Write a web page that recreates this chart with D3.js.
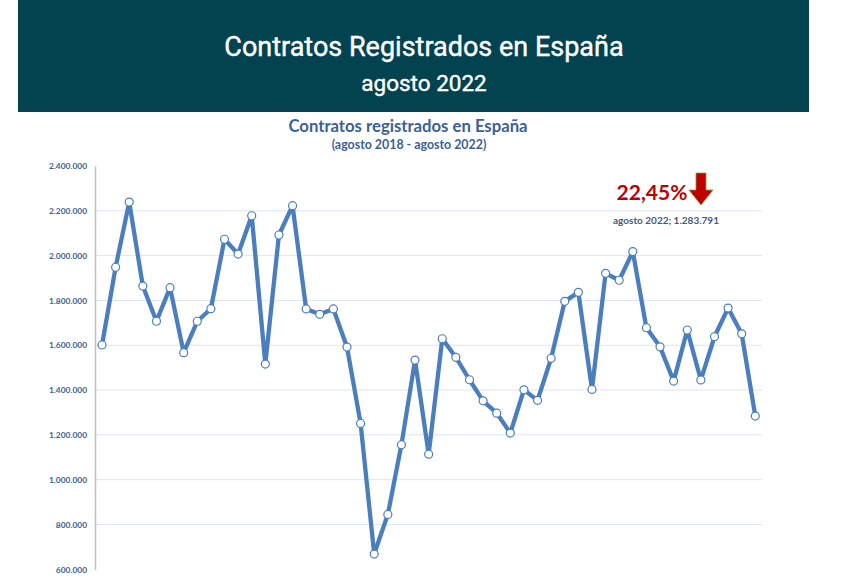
<!DOCTYPE html>
<html><head><meta charset="utf-8">
<script src="https://cdn.jsdelivr.net/npm/d3@7"></script>
<style>body{margin:0;background:#fff}svg{display:block}</style>
</head><body>
<script>
const headerTitle = "Contratos Registrados en España";
const headerSub = "agosto 2022";
const chartTitle = "Contratos registrados en España";
const chartSub = "(agosto 2018 - agosto 2022)";
const values = [1601000,1948000,2239000,1864000,1707000,1857000,1567000,1707000,1763000,2073000,
  2007000,2178000,1516000,2092000,2223000,1762000,1738000,1762000,1592000,1251000,
  668000,845000,1156000,1534000,1114000,1629000,1546000,1446000,1352000,1297000,
  1208000,1401000,1354000,1542000,1796000,1836000,1403000,1921000,1890000,2018000,
  1678000,1593000,1440000,1668000,1445000,1638000,1766000,1651000,1283791];
const yTicks = [600000,800000,1000000,1200000,1400000,1600000,1800000,2000000,2200000,2400000];
const pctLabel = "22,45%";
const lastLabel = "agosto 2022; 1.283.791";

const W=846,H=584;
const svg=d3.select("body").append("svg").attr("width",W).attr("height",H);
svg.append("rect").attr("x",18).attr("y",0).attr("width",791).attr("height",112).attr("fill","#02434f");
svg.append("text").attr("x",424).attr("y",56).attr("text-anchor","middle").attr("fill","#fff")
  .style("font-family","Roboto").style("font-weight","400").style("font-size","27px")
  .style("stroke","#fff").style("stroke-width","0.4px").text(headerTitle);
svg.append("text").attr("x",424).attr("y",91).attr("text-anchor","middle").attr("fill","#fff")
  .style("font-family","Roboto").style("font-weight","400").style("font-size","22.5px")
  .style("stroke","#fff").style("stroke-width","0.4px").text(headerSub);
svg.append("text").attr("x",408).attr("y",132).attr("text-anchor","middle").attr("fill","#3b5f98")
  .style("font-family","Lato").style("font-weight","bold").style("font-size","16.7px").text(chartTitle);
svg.append("text").attr("x",409).attr("y",149).attr("text-anchor","middle").attr("fill","#3b5f98")
  .style("font-family","Lato").style("font-weight","bold").style("font-size","12.4px").text(chartSub);

const x=d3.scaleLinear().domain([0,values.length-1]).range([102,755.3]);
const y=d3.scaleLinear().domain([600000,2400000]).range([569.3,166]);
const fmt=d=>d3.format(",")(d).replace(/,/g,".");

const grid=svg.append("g");
grid.selectAll("line").data(yTicks.filter(d=>d!==600000&&d!==2400000)).join("line")
  .attr("x1",95).attr("x2",762).attr("y1",d=>y(d)).attr("y2",d=>y(d))
  .attr("stroke","#dde6f3").attr("stroke-width",1);

const yAxis=svg.append("g").attr("transform","translate(95,0)")
  .call(d3.axisLeft(y).tickValues(yTicks).tickSize(0).tickPadding(8).tickFormat(fmt));
yAxis.select(".domain").attr("stroke","#bfbfbf").attr("stroke-width",1.5);
yAxis.selectAll("text").attr("fill","#3e5f93").style("font-family","Lato").style("font-weight","bold").style("font-size","8.4px");

const line=d3.line().x((d,i)=>x(i)).y(d=>y(d));
svg.append("path").datum(values).attr("d",line).attr("fill","none")
  .attr("stroke","#4a7ebf").attr("stroke-width",4.3).attr("stroke-linejoin","round");
svg.append("g").selectAll("circle").data(values).join("circle")
  .attr("cx",(d,i)=>x(i)).attr("cy",d=>y(d)).attr("r",4)
  .attr("fill","#fff").attr("stroke","#4a7ebf").attr("stroke-width",1.2);

svg.append("text").attr("x",652).attr("y",200).attr("text-anchor","middle").attr("fill","#c00000")
  .style("font-family","Lato").style("font-weight","bold").style("font-size","21px").text(pctLabel);
const ax=701, at=173;
svg.append("path").attr("d",`M${ax-5},${at} L${ax+5},${at} L${ax+5},${at+17} L${ax+12},${at+17} L${ax},${at+32} L${ax-12},${at+17} L${ax-5},${at+17} Z`)
  .attr("fill","#c00000").attr("stroke","#8a9a3a").attr("stroke-width",0.8);
svg.append("text").attr("x",666).attr("y",224).attr("text-anchor","middle").attr("fill","#3f5a85")
  .style("font-family","Lato").style("font-weight","bold").style("font-size","10px").text(lastLabel);
</script>
</body></html>
